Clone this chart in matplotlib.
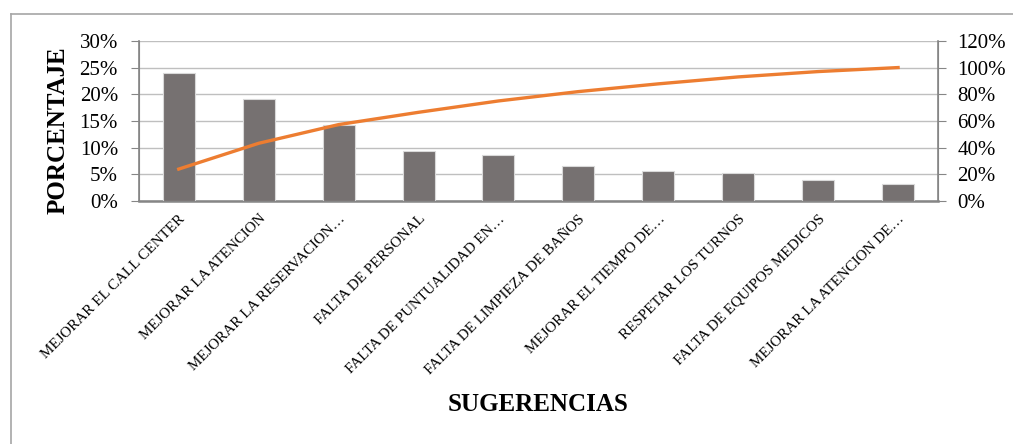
import matplotlib.pyplot as plt
from matplotlib.lines import Line2D
from matplotlib.ticker import PercentFormatter

plt.rcParams['font.family'] = ['Liberation Serif', 'DejaVu Serif']

categorias = ['MEJORAR EL CALL CENTER', 'MEJORAR LA ATENCION',
              'MEJORAR LA RESERVACION\u2026', 'FALTA DE PERSONAL',
              'FALTA DE PUNTUALIDAD EN\u2026', 'FALTA DE LIMPIEZA DE BAÑOS',
              'MEJORAR EL TIEMPO DE\u2026', 'RESPETAR LOS TURNOS',
              'FALTA DE EQUIPOS MEDICOS', 'MEJORAR LA ATENCION DE\u2026']
porcentaje = [24.0, 19.1, 14.3, 9.4, 8.6, 6.6, 5.6, 5.2, 3.9, 3.2]
acumulado = [24.0, 43.3, 57.3, 66.5, 75.0, 82.0, 87.8, 93.0, 97.0, 100.0]

fig = plt.figure(figsize=(10.13, 4.44), dpi=100)
ax = fig.add_axes([0.137, 0.547, 0.789, 0.361])
ax2 = ax.twinx()

x = range(len(categorias))
ax.bar(x, porcentaje, width=0.4, color='#767171', edgecolor='#d9d9d9',
       linewidth=0.8, zorder=3)
ax2.plot(x, acumulado, color='#ED7D31', linewidth=2.4, zorder=4)

ax.set_xlim(-0.5, len(categorias) - 0.5)
ax.set_ylim(0, 30)
ax2.set_ylim(0, 120)
ax.set_yticks(range(0, 31, 5))
ax2.set_yticks(range(0, 121, 20))
ax.yaxis.set_major_formatter(PercentFormatter(decimals=0))
ax2.yaxis.set_major_formatter(PercentFormatter(decimals=0))
ax.yaxis.grid(True, color='#bfbfbf', linewidth=1.0, zorder=0)
ax.set_axisbelow(True)

ax.set_xticks(list(x))
ax.set_xticklabels(categorias, rotation=45, ha='right',
                   rotation_mode='anchor', fontsize=10.8)
ax.tick_params(axis='x', length=0, pad=8)
ax.tick_params(axis='y', length=6, color='#868686', labelsize=15, pad=9)
ax2.tick_params(axis='y', length=6, color='#868686', labelsize=15, pad=8)

for a in (ax, ax2):
    a.spines['top'].set_visible(False)
    for s in ('left', 'right', 'bottom'):
        a.spines[s].set_color('#868686')
ax.spines['bottom'].set_linewidth(1.8)
ax.spines['left'].set_linewidth(1.2)
ax2.spines['right'].set_linewidth(1.2)

ax.set_ylabel('PORCENTAJE', fontsize=18, fontweight='bold')
ax.yaxis.set_label_coords(-0.087, 0.44)
fig.text(0.531, 0.088, 'SUGERENCIAS', fontsize=18, fontweight='bold',
         ha='center', va='center')

# chart frame
fig.add_artist(Line2D([11 / 1013, 11 / 1013], [0, 1 - 14 / 444],
                      transform=fig.transFigure, color='#a6a6a6', linewidth=1.2))
fig.add_artist(Line2D([11 / 1013, 1], [1 - 14 / 444, 1 - 14 / 444],
                      transform=fig.transFigure, color='#a6a6a6', linewidth=1.2))

fig.savefig('out.png', dpi=100, facecolor='white')
